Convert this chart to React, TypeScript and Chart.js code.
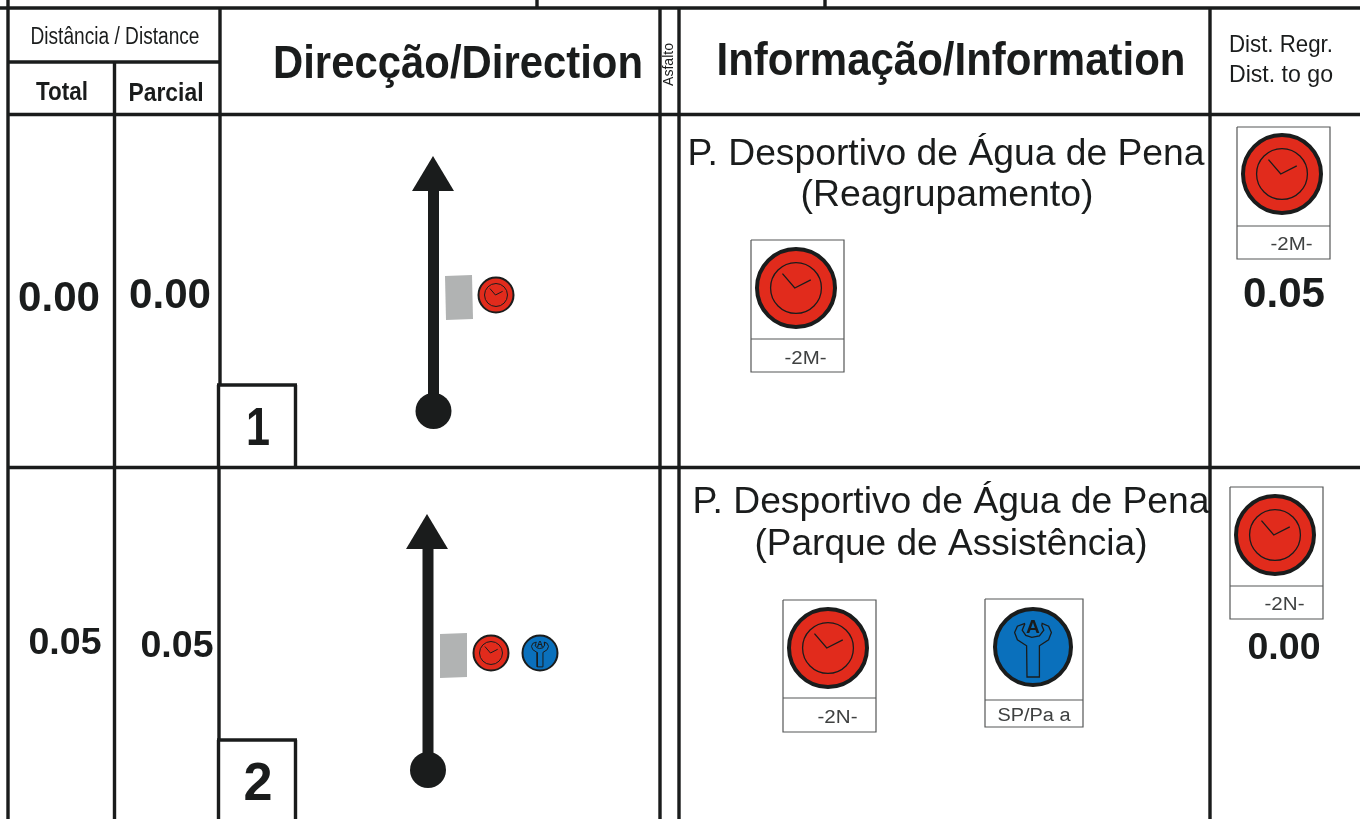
import React, { useEffect, useRef } from "react";
import { Chart, registerables } from "chart.js";

Chart.register(...registerables);

const W = 1360;
const H = 819;
const INK = "#1a1c1c";
const BOX = "#555757";
const RED = "#e12b1c";
const BLUE = "#0a70bc";
const GREY = "#b1b3b3";
const FONT = '"Liberation Sans"';

type P = [number, number];

// Road-book ruling: [x1, y1, x2, y2]
const frameLines: number[][] = [
  [0, 8, 1360, 8],
  [8, 0, 8, 819],
  [537, 0, 537, 8],
  [825, 0, 825, 8],
  [8, 62, 219, 62],
  [8, 114.5, 1360, 114.5],
  [8, 467.5, 1360, 467.5],
  [114.5, 62, 114.5, 819],
  [220, 8, 220, 385],
  [218.5, 385, 218.5, 467],
  [219, 467, 219, 740],
  [218.5, 740, 218.5, 819],
  [660, 8, 660, 819],
  [679, 8, 679, 819],
  [1210, 8, 1210, 819],
  [217, 385, 297, 385],
  [295.5, 385, 295.5, 467],
  [217, 740, 297, 740],
  [295.5, 740, 295.5, 819],
];

// Tulip arrows: stem from (x, yEnd) to (x, yTop), head tip and base
const arrowStemX = [433.5, 428];
const arrowStemTop = [185, 543];
const arrowStemEnd = [411, 770];
const arrowTips: P[] = [[433, 156], [427, 514]];
const arrowHalfBase = 21;
const arrowHeadDepth = 35;
const asphaltQuads: P[][] = [
  [[445, 276], [472, 275], [473, 319], [446, 320]],
  [[440, 634], [467, 633], [467, 677], [440, 678]],
];

// Icons [cx, cy, kind]
const smallIcons: [number, number, string][] = [
  [496, 295, "clock"],
  [491, 653, "clock"],
  [540, 653, "wrench"],
];
const largeIcons: [number, number, string][] = [
  [796, 288, "clock"],
  [1282, 174, "clock"],
  [828, 648, "clock"],
  [1275, 535, "clock"],
  [1033, 647, "wrench"],
];
// Sign boxes [left, top, right, bottom, divider]
const signBoxes: number[][] = [
  [751, 240, 844, 372, 339],
  [1237, 127, 1330, 259, 226],
  [783, 600, 876, 732, 698],
  [1230, 487, 1323, 619, 586],
  [985, 599, 1083, 727, 700],
];

const clockHands: P[] = [[-0.33, -0.35], [-0.03, 0], [0.36, -0.2]];
const wrenchOutline: P[] = [
  [-0.2, -0.59], [-0.39, -0.52], [-0.46, -0.36], [-0.39, -0.18], [-0.16, -0.03], [-0.15, 0.75],
  [0.15, 0.75], [0.16, -0.03], [0.39, -0.18], [0.46, -0.36], [0.39, -0.52], [0.23, -0.59],
  [0.22, -0.54], [0.27, -0.42], [0.16, -0.28], [-0.03, -0.24], [-0.18, -0.29], [-0.27, -0.42],
  [-0.23, -0.52], [-0.2, -0.59],
];

// Texts: text, centre x, centre y, font size, bold, target width
const labels: [string, number, number, number, boolean, number][] = [
  ["Distância / Distance", 115, 36, 23, false, 169],
  ["Total", 62, 91, 25, true, 52],
  ["Parcial", 166, 92, 25, true, 75],
  ["Direcção/Direction", 458, 62, 47, true, 370],
  ["Informação/Information", 951, 59, 47, true, 469],
  ["Dist. Regr.", 1281, 44, 24, false, 104],
  ["Dist. to go", 1281, 74, 24, false, 104],
  ["0.00", 59, 296, 42, true, 82],
  ["0.00", 170, 293, 42, true, 82],
  ["0.05", 65, 642, 36, true, 73],
  ["0.05", 177, 645, 36, true, 73],
  ["1", 258, 426, 54, true, 24],
  ["2", 258, 781, 54, true, 29],
  ["P. Desportivo de Água de Pena", 946, 152, 37, false, 517],
  ["(Reagrupamento)", 947, 193, 37, false, 293],
  ["P. Desportivo de Água de Pena", 951, 500, 37, false, 517],
  ["(Parque de Assistência)", 951, 542, 37, false, 393],
  ["0.05", 1284, 292, 42, true, 82],
  ["0.00", 1284, 647, 36, true, 73],
];
const signLabels: [string, number, number, number][] = [
  ["-2M-", 805.5, 358, 42],
  ["-2M-", 1291.5, 244, 42],
  ["-2N-", 837.5, 717, 40],
  ["-2N-", 1284.5, 604, 40],
  ["SP/Pa a", 1034, 715, 73],
];
const verticalLabel = { text: "Asfalto", x: 669, y: 64.5, size: 14, length: 43 };

function ptsOf(list: P[]) {
  return list.map(([x, y]) => ({ x, y }));
}
function segment(a: P, b: P, color: string, width: number) {
  return {
    data: ptsOf([a, b]),
    showLine: true,
    borderColor: color,
    borderWidth: width,
    pointRadius: 0,
    borderCapStyle: "butt",
    clip: false,
  };
}
function polygon(list: P[], fillColor: string, line: string, width: number) {
  return {
    data: ptsOf(list),
    showLine: true,
    fill: "shape",
    backgroundColor: fillColor,
    borderColor: line,
    borderWidth: width,
    pointRadius: 0,
    tension: 0,
    clip: false,
  };
}
function disc(x: number, y: number, radius: number, fillColor: string, line: string, width: number) {
  return {
    data: [{ x, y }],
    showLine: false,
    pointStyle: "circle",
    pointRadius: radius,
    pointBackgroundColor: fillColor,
    pointBorderColor: line,
    pointBorderWidth: width,
    clip: false,
  };
}
function icon(cx: number, cy: number, kind: string, r: number, rim: number, thin: number) {
  const place = (list: P[]): P[] => list.map(([u, v]) => [cx + u * r, cy + v * r]);
  const out: any[] = [];
  out.push(disc(cx, cy, r - rim / 2, kind === "clock" ? RED : BLUE, INK, rim));
  if (kind === "clock") {
    out.push(disc(cx, cy, r * 0.62, "rgba(0,0,0,0)", INK, thin));
    out.push({ ...polygon(place(clockHands), "rgba(0,0,0,0)", INK, thin), fill: false });
  } else {
    out.push({ ...polygon(place(wrenchOutline), "rgba(0,0,0,0)", INK, thin), fill: false });
  }
  return out;
}

function buildDatasets() {
  const ds: any[] = [];
  frameLines.forEach(([a, b, c, d]) => ds.push(segment([a, b], [c, d], INK, 3.4)));
  signBoxes.forEach(([l, t, r, b, m]) => {
    ds.push({ ...polygon([[l, t], [r, t], [r, b], [l, b], [l, t]], "rgba(0,0,0,0)", BOX, 1.2), fill: false });
    ds.push(segment([l, m], [r, m], BOX, 1.2));
  });
  arrowStemX.forEach((x, i) => {
    ds.push(segment([x, arrowStemEnd[i]], [x, arrowStemTop[i]], INK, 11));
    const [tx, ty] = arrowTips[i];
    ds.push(polygon([[tx, ty], [tx + arrowHalfBase, ty + arrowHeadDepth], [tx - arrowHalfBase, ty + arrowHeadDepth], [tx, ty]], INK, INK, 0));
    ds.push(disc(x, arrowStemEnd[i], 18, INK, INK, 0));
  });
  asphaltQuads.forEach((q) => ds.push(polygon([...q, q[0]], GREY, GREY, 0)));
  smallIcons.forEach(([x, y, k]) => ds.push(...icon(x, y, k, 18.5, 2, 1)));
  largeIcons.forEach(([x, y, k]) => ds.push(...icon(x, y, k, k === "wrench" ? 40 : 41, 4, 1.3)));
  // Chart.js paints the first dataset last, so paint order is the reverse
  return ds.reverse();
}

const textPlugin = {
  id: "roadbookText",
  afterDatasetsDraw(chart: any) {
    const { ctx, scales } = chart;
    const sx = scales.x;
    const sy = scales.y;
    const put = (text: string, x: number, y: number, size: number, bold: boolean, width: number) => {
      ctx.font = `${bold ? "bold " : ""}${size}px ${FONT}`;
      const k = width / ctx.measureText(text).width;
      ctx.save();
      ctx.translate(sx.getPixelForValue(x), sy.getPixelForValue(y) + size * 0.07);
      ctx.scale(k, 1);
      ctx.fillText(text, 0, 0);
      ctx.restore();
    };
    ctx.save();
    ctx.fillStyle = INK;
    ctx.textAlign = "center";
    ctx.textBaseline = "middle";
    labels.forEach(([text, x, y, size, bold, width]) => put(text, x, y, size, bold, width));
    ctx.fillStyle = "#3f4141";
    signLabels.forEach(([text, x, y, width]) => put(text, x, y, 18, false, width));
    ctx.fillStyle = INK;
    ctx.font = `${verticalLabel.size}px ${FONT}`;
    const k = verticalLabel.length / ctx.measureText(verticalLabel.text).width;
    ctx.save();
    ctx.translate(sx.getPixelForValue(verticalLabel.x), sy.getPixelForValue(verticalLabel.y));
    ctx.rotate(-Math.PI / 2);
    ctx.scale(k, 1);
    ctx.fillText(verticalLabel.text, 0, 0);
    ctx.restore();
    // Wrench letter
    smallIcons.concat(largeIcons).forEach(([x, y, kind]) => {
      if (kind !== "wrench") return;
      const small = smallIcons.some((s) => s[0] === x && s[1] === y);
      const r = small ? 18.5 : 40;
      ctx.font = `bold ${r * 0.48}px ${FONT}`;
      ctx.fillText("A", sx.getPixelForValue(x), sy.getPixelForValue(y - 0.48 * r));
    });
    ctx.restore();
  },
};

export default function App() {
  const ref = useRef<HTMLCanvasElement>(null);
  useEffect(() => {
    document.body.style.margin = "0";
    document.body.style.background = "#fff";
    const chart = new Chart(ref.current as HTMLCanvasElement, {
      type: "scatter",
      data: { datasets: buildDatasets() },
      options: {
        animation: false,
        responsive: false,
        layout: { padding: 0, autoPadding: false },
        plugins: { legend: { display: false }, tooltip: { enabled: false } },
        events: [],
        scales: {
          x: { type: "linear", min: 0, max: W, display: false },
          y: { type: "linear", min: 0, max: H, reverse: true, display: false },
        },
      },
      plugins: [textPlugin],
    } as any);
    return () => chart.destroy();
  }, []);
  return <canvas ref={ref} width={W} height={H} style={{ display: "block" }} />;
}
